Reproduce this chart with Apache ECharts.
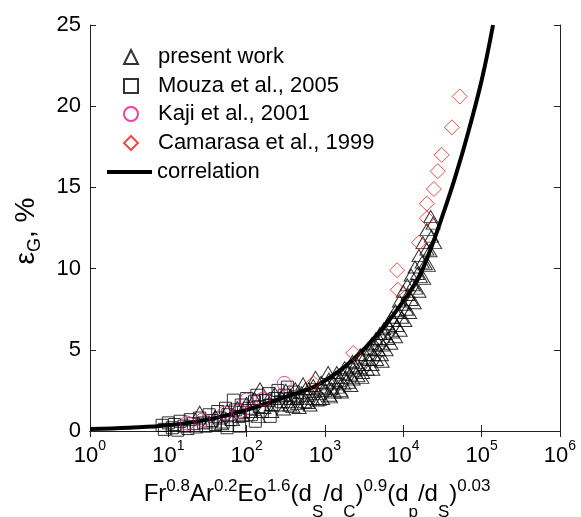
<!DOCTYPE html>
<html><head><meta charset="utf-8">
<script src="https://cdn.jsdelivr.net/npm/echarts@6/dist/echarts.min.js"></script>
<style>html,body{margin:0;padding:0;background:#fff}#c{width:581px;height:517px}</style>
</head><body><div id="c"></div>
<script>
// ---- data (x given as log10 of the abscissa) ----
const xTickExponents = [0, 1, 2, 3, 4, 5, 6];
const yTicks = [0, 5, 10, 15, 20, 25];
const seriesNames = ['present work', 'Mouza et al., 2005', 'Kaji et al., 2001', 'Camarasa et al., 1999', 'correlation'];

const presentWork = [
[1.40,1.15],[1.52,0.55],[1.60,0.9],[1.68,0.45],[1.75,1.25],[1.82,0.7],[1.88,1.45],[1.95,0.95],[2.00,1.7],[2.05,1.2],
[2.10,2.0],[2.15,0.9],[2.17,2.6],[2.22,1.45],[2.27,1.9],[2.32,1.2],[2.36,2.3],[2.40,1.6],[2.44,2.1],[2.47,1.35],
[2.50,2.5],[2.53,1.8],[2.56,2.2],[2.59,1.5],[2.62,2.6],[2.64,2.0],[2.67,1.45],[2.70,2.35],[2.72,2.9],[2.74,1.8],
[2.77,2.2],[2.79,2.6],[2.81,1.6],[2.84,2.0],[2.86,2.45],[2.88,3.3],[2.90,1.9],[2.92,2.3],[2.95,2.7],[2.97,2.0],
[3.00,2.5],[3.02,2.9],[3.04,3.6],[3.06,2.2],[3.08,2.6],[3.10,3.0],[3.12,2.4],[3.14,3.3],[3.16,2.7],[3.18,3.1],
[3.20,2.5],[3.22,3.5],[3.24,2.9],[3.26,3.3],[3.28,3.8],[3.30,3.0],[3.32,3.5],[3.34,4.0],[3.36,3.2],[3.38,3.7],
[3.40,4.2],[3.42,3.4],[3.44,3.9],[3.46,4.5],[3.48,3.6],[3.50,4.1],[3.52,4.7],[3.54,3.8],[3.56,4.4],[3.58,5.0],
[3.60,4.1],[3.62,4.7],[3.64,5.3],[3.66,4.4],[3.68,5.0],[3.70,5.6],[3.72,4.7],[3.74,5.3],[3.76,6.0],[3.78,5.0],
[3.80,5.7],[3.82,6.4],[3.84,5.4],[3.86,6.1],[3.88,6.8],[3.90,5.8],[3.92,6.5],[3.94,7.3],[3.96,6.2],[3.98,7.0],
[4.00,7.8],[4.02,6.8],[4.04,7.5],[4.06,8.4],[4.08,7.3],[4.10,8.1],[4.12,9.0],[4.14,7.9],[4.16,8.8],[4.18,9.7],
[4.20,8.6],[4.22,9.5],[4.24,10.4],[4.26,9.4],[4.28,10.3],[4.30,11.2],[4.32,10.2],[4.34,11.1],[4.36,12.0],[4.38,12.8],
[4.40,11.6],[4.35,13.2],[4.30,12.4],[4.25,11.6],[4.20,10.8],[4.15,10.1],[4.10,9.6],[4.05,9.0],[4.00,8.6],[3.95,8.0],
[3.90,7.4],[3.85,7.0],[3.80,6.6],[3.75,6.3],[3.70,6.0],[3.65,5.7],[3.60,5.4],[3.55,5.1],[3.45,4.7],[3.35,4.3],
[3.25,3.9],[3.15,3.6],[3.05,3.2],[2.95,3.0],[2.85,2.8],[2.75,2.6],
[2.55,1.6],[2.65,1.7],[2.78,1.75],[2.93,1.95],[3.07,2.1],[3.21,2.4],[3.33,2.8],[3.47,3.3],[3.61,3.8],[3.73,4.3]
];
const mouza = [
[0.92,0.35],[0.95,0.1],[1.00,0.5],[1.05,0.2],[1.08,0.4],[1.12,0.05],[1.15,0.6],[1.20,0.3],[1.25,0.15],[1.28,0.7],
[1.32,0.45],[1.36,0.25],[1.40,0.8],[1.45,0.5],[1.48,0.3],[1.52,1.0],[1.56,0.65],[1.60,0.4],[1.63,1.2],[1.66,0.8],
[1.70,0.55],[1.73,1.4],[1.75,0.2],[1.76,1.0],[1.80,0.7],[1.83,1.9],[1.86,1.3],[1.90,0.9],[1.91,0.3],[1.93,1.6],
[1.96,1.15],[2.00,2.0],[2.03,1.4],[2.06,1.0],[2.10,1.8],[2.11,0.6],[2.13,2.2],[2.16,1.5],[2.20,1.2],[2.24,1.9],
[2.28,2.3],[2.30,0.9],[2.32,1.6],[2.36,2.0],[2.40,2.5],[2.44,1.8],[2.48,2.2],[2.52,2.7],[2.56,2.0],[2.60,2.4],[2.65,2.1]
];
const kaji = [[1.24,0.49],[1.44,0.68],[1.72,1.1],[1.91,1.22],[2.00,1.9],[2.21,1.97],[2.48,2.93]];
const camarasa = [
[2.85,2.95],[3.36,4.8],[3.92,9.9],[3.93,8.7],[4.20,11.6],[4.30,13.1],[4.30,14.0],[4.39,14.9],
[4.44,16.0],[4.49,17.0],[4.62,18.7],[4.72,20.6]
];
const correlation = [
[0,0.12],[0.5,0.2],[1,0.35],[1.5,0.7],[2,1.3],[2.5,2.1],[2.85,2.7],[3,3.1],[3.25,3.95],[3.5,5.05],
[3.75,6.4],[4,8.0],[4.2,9.5],[4.36,11.35],[4.51,13.4],[4.65,15.45],[4.8,17.9],[5,21.6],[5.145,25]
];

// ---- build ----
const toXY = arr => arr.map(p => [Math.pow(10, p[0]), p[1]]);
const FONT = 'Liberation Sans, Arial, sans-serif';
const axisColor = '#222';
const hollow = c => ({color: 'rgba(0,0,0,0)', borderColor: c, borderWidth: 1});
const legendRows = [58, 87, 115, 144, 173];

const chart = echarts.init(document.getElementById('c'), null, {renderer: 'canvas'});
const xName = '{n|Fr}{u|0.8}{n|Ar}{u|0.2}{n|Eo}{u|1.6}{n|(d}{d|S}{n|/d}{d|C}{n|)}{u|0.9}{n|(d}{d|p}{n|/d}{d|S}{n|)}{u|0.03}';
const tickStyle = {show: true, inside: true, length: 6, lineStyle: {color: axisColor}};
const lineStyleAxis = {show: true, lineStyle: {color: axisColor, width: 1}};
chart.setOption({
  animation: false,
  grid: {left: 90, right: 21, top: 25, bottom: 86, containLabel: false, outerBoundsMode: 'none'},
  xAxis: [{
    type: 'log', logBase: 10, min: Math.pow(10, xTickExponents[0]), max: Math.pow(10, xTickExponents[xTickExponents.length - 1]),
    position: 'bottom', axisLine: lineStyleAxis, axisTick: tickStyle,
    minorTick: {show: false}, splitLine: {show: false},
    axisLabel: {
      margin: 8, showMinLabel: true, showMaxLabel: true,
      formatter: v => '{b|10}{s|' + Math.round(Math.log10(v)) + '}',
      rich: {
        b: {fontSize: 22, fontFamily: FONT, color: '#000'},
        s: {fontSize: 14, fontFamily: FONT, color: '#000', padding: [0, 0, 20, 0]}
      }
    },
    name: xName, nameLocation: 'middle', nameGap: 37,
    nameTextStyle: {
      padding: [0, 16, 0, 0],
      rich: {
        n: {fontSize: 24, fontFamily: FONT, color: '#000'},
        u: {fontSize: 17, fontFamily: FONT, color: '#000', padding: [0, 0, 16, 0]},
        d: {fontSize: 17, fontFamily: FONT, color: '#000', padding: [36, 0, 0, 0]}
      }
    }
  }, {
    type: 'log', logBase: 10, min: Math.pow(10, xTickExponents[0]), max: Math.pow(10, xTickExponents[xTickExponents.length - 1]),
    position: 'top', axisLine: lineStyleAxis, axisTick: tickStyle,
    minorTick: {show: false}, splitLine: {show: false}, axisLabel: {show: false}
  }],
  yAxis: [{
    type: 'value', min: yTicks[0], max: yTicks[yTicks.length - 1], interval: yTicks[1] - yTicks[0],
    position: 'left', axisLine: lineStyleAxis, axisTick: tickStyle, splitLine: {show: false},
    axisLabel: {margin: 9, fontSize: 22, fontFamily: FONT, color: '#000'},
    name: '{n|ε}{d|G}{n|, %}', nameLocation: 'middle', nameRotate: 90, nameGap: 46,
    nameTextStyle: {
      padding: [0, 6, 0, 0],
      rich: {
        n: {fontSize: 28, fontFamily: FONT, color: '#000'},
        d: {fontSize: 18, fontFamily: FONT, color: '#000', padding: [18, 0, 0, 0]}
      }
    }
  }, {
    type: 'value', min: yTicks[0], max: yTicks[yTicks.length - 1], interval: yTicks[1] - yTicks[0],
    position: 'right', axisLine: lineStyleAxis, axisTick: tickStyle,
    splitLine: {show: false}, axisLabel: {show: false}
  }],
  legend: seriesNames.map((n, i) => {
    const isLine = i === 4;
    return {
      data: isLine ? [{name: n, icon: 'rect', itemStyle: {color: '#000', borderWidth: 0}}] : [n],
      left: isLine ? 107 : 123, top: legendRows[i] - 12,
      itemWidth: isLine ? 45 : 14, itemHeight: isLine ? 4 : 14,
      selectedMode: false, padding: 0,
      textStyle: {fontSize: 22, fontFamily: FONT, color: '#000', padding: [0, 0, 0, isLine ? 0 : 15]}
    };
  }),
  series: [
    {name: seriesNames[0], type: 'scatter', data: toXY(presentWork), symbol: 'triangle', symbolSize: [14, 12],
     itemStyle: hollow('#000'), z: 2},
    {name: seriesNames[1], type: 'scatter', data: toXY(mouza), symbol: 'rect', symbolSize: 12,
     itemStyle: hollow('#000'), z: 2},
    {name: seriesNames[2], type: 'scatter', data: toXY(kaji), symbol: 'circle', symbolSize: 14,
     itemStyle: hollow('#e6168a'), z: 4},
    {name: seriesNames[3], type: 'scatter', data: toXY(camarasa), symbol: 'diamond', symbolSize: 15,
     itemStyle: hollow('#ee1c1c'), z: 4},
    {name: seriesNames[4], type: 'line', data: toXY(correlation), symbol: 'none', smooth: 0.4,
     lineStyle: {color: '#000', width: 4}, itemStyle: {color: '#000'}, z: 3}
  ]
});
</script>
</body></html>
